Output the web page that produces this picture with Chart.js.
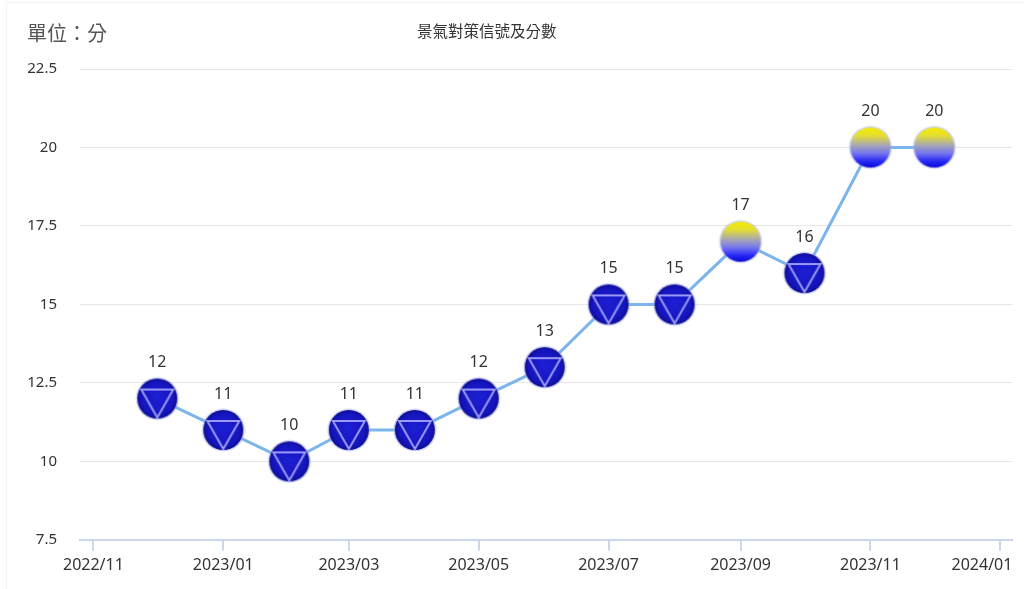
<!DOCTYPE html>
<html>
<head>
<meta charset="utf-8">
<script src="https://cdn.jsdelivr.net/npm/chart.js@4/dist/chart.umd.min.js"></script>
<style>
    html, body { margin: 0; padding: 0; background: #fff; }
    .wrap { position: relative; width: 1024px; height: 589px; overflow: hidden; }
    .frame { position: absolute; left: 6px; top: 2px; right: 0; bottom: 0; border-left: 1px solid #eef5f5; border-top: 1px solid #eef5f5; }
    .unit { position: absolute; left: 27px; top: 19px; font: 20px "Noto Sans CJK TC", sans-serif; line-height: 28px; color: #555; }
    .title { position: absolute; left: 417px; top: 19px; font: 15.5px "Noto Sans CJK TC", sans-serif; line-height: 22px; color: #333; white-space: nowrap; }
    canvas { position: absolute; left: 0; top: 0; }
</style>
</head>
<body>
<div class="wrap">
    <div class="frame"></div>
    <canvas id="signalChart" width="1024" height="589"></canvas>
    <div class="unit">單位：分</div>
    <div class="title">景氣對策信號及分數</div>
</div>
<script>
// monthly business cycle indicator scores
const months = ['2022/12', '2023/01', '2023/02', '2023/03', '2023/04', '2023/05', '2023/06',
                '2023/07', '2023/08', '2023/09', '2023/10', '2023/11', '2023/12'];
const scores = [12, 11, 10, 11, 11, 12, 13, 15, 15, 17, 16, 20, 20];
const signals = ['blue', 'blue', 'blue', 'blue', 'blue', 'blue', 'blue',
                 'blue', 'blue', 'yellowblue', 'blue', 'yellowblue', 'yellowblue'];
const xTickLabels = ['2022/11', '2023/01', '2023/03', '2023/05', '2023/07', '2023/09', '2023/11', '2024/01'];
const yTicks = [7.5, 10, 12.5, 15, 17.5, 20, 22.5];

const FONT = '"Noto Sans", "Noto Sans CJK TC", sans-serif';

function monthToDay(label) {
    const [y, m] = label.split('/').map(Number);
    return Date.UTC(y, m - 1, 1) / 86400000;
}

function makeMarker(type) {
    const size = 48, c = size / 2, r = 20;
    const cv = document.createElement('canvas');
    cv.width = size; cv.height = size;
    const g = cv.getContext('2d');

    // soft halo
    g.beginPath();
    g.arc(c, c, r + 1.5, 0, Math.PI * 2);
    g.fillStyle = 'rgba(170,175,225,0.55)';
    g.fill();

    g.beginPath();
    g.arc(c, c, r, 0, Math.PI * 2);
    if (type === 'blue') {
        const rg = g.createRadialGradient(c, c - 2, 2, c, c, r);
        rg.addColorStop(0, '#1e1ed2');
        rg.addColorStop(0.75, '#1616c0');
        rg.addColorStop(1, '#0e0e96');
        g.fillStyle = rg;
        g.fill();
        // inverted triangle
        g.beginPath();
        g.moveTo(c - 16, c - 9);
        g.lineTo(c + 16, c - 9);
        g.lineTo(c, c + 19);
        g.closePath();
        g.strokeStyle = '#9a9af6';
        g.lineWidth = 2;
        g.stroke();
    } else {
        const lg = g.createLinearGradient(0, c - r, 0, c + r);
        lg.addColorStop(0, '#f2ec00');
        lg.addColorStop(0.2, '#e6de30');
        lg.addColorStop(0.45, '#a6a6b6');
        lg.addColorStop(0.65, '#7474f0');
        lg.addColorStop(0.85, '#2626f6');
        lg.addColorStop(1, '#0808d2');
        g.fillStyle = lg;
        g.fill();
    }
    return cv;
}

const markers = { blue: makeMarker('blue'), yellowblue: makeMarker('yellowblue') };

const valueLabels = {
    id: 'valueLabels',
    afterDatasetsDraw(chart) {
        const ctx = chart.ctx;
        const meta = chart.getDatasetMeta(0);
        ctx.save();
        ctx.font = '16px ' + FONT;
        ctx.fillStyle = '#333';
        ctx.textAlign = 'center';
        ctx.textBaseline = 'middle';
        meta.data.forEach((pt, i) => {
            ctx.fillText(String(scores[i]), pt.x, pt.y - 36);
        });
        ctx.restore();
    }
};

const points = months.map((m, i) => ({ x: monthToDay(m), y: scores[i] }));
const tickDays = xTickLabels.map(monthToDay);

new Chart(document.getElementById('signalChart'), {
    type: 'line',
    data: {
        datasets: [{
            data: points,
            borderColor: '#7cb5ec',
            borderWidth: 3,
            tension: 0,
            pointStyle: signals.map(s => markers[s]),
            pointRadius: 20,
            clip: false
        }]
    },
    options: {
        responsive: false,
        animation: false,
        events: [],
        layout: { autoPadding: false, padding: { left: 0, right: 12, top: 69, bottom: 9 } },
        plugins: {
            legend: { display: false },
            tooltip: { enabled: false },
            title: { display: false }
        },
        scales: {
            x: {
                type: 'linear',
                min: tickDays[0] - 6.3,
                max: tickDays[tickDays.length - 1] + 5.5,
                afterBuildTicks: scale => { scale.ticks = tickDays.map(v => ({ value: v })); },
                afterFit: scale => { scale.paddingLeft = 0; scale.paddingRight = 0; },
                ticks: {
                    autoSkip: false,
                    maxRotation: 0,
                    padding: 5,
                    color: '#333',
                    font: { family: FONT, size: 16 },
                    // last label is pulled left so it stays inside the frame, as in the source
                    callback: (v, i) => xTickLabels[i] + (i === xTickLabels.length - 1 ? '\u2007\u2007\u2007\u2007' : '')
                },
                grid: { drawOnChartArea: false, drawTicks: true, tickLength: 11, color: '#ccd6eb', lineWidth: 2 },
                border: { display: true, color: '#ccd6eb', width: 2 }
            },
            y: {
                min: 7.5,
                max: 22.5,
                afterBuildTicks: scale => { scale.ticks = yTicks.map(v => ({ value: v })); },
                afterFit: scale => { scale.width = 80; },
                ticks: {
                    padding: 23,
                    color: '#333',
                    font: { family: FONT, size: 15 },
                    callback: v => String(v)
                },
                grid: { color: '#e6e6e6', drawTicks: false },
                border: { display: false }
            }
        }
    },
    plugins: [valueLabels]
});
</script>
</body>
</html>
